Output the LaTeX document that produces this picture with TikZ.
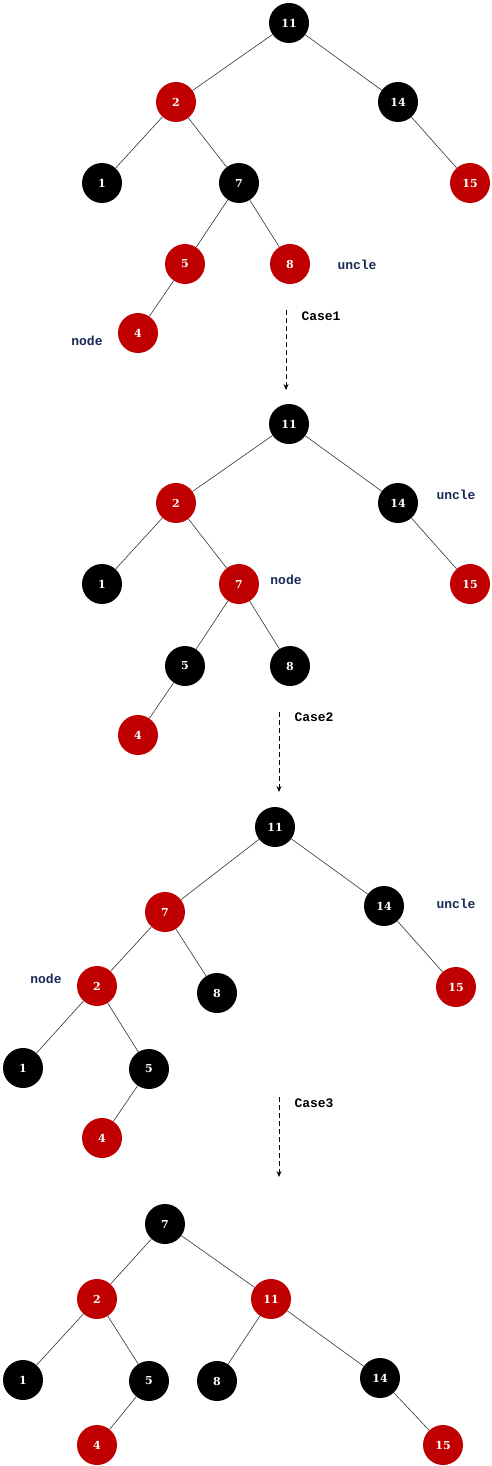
\documentclass[tikz,border=0pt]{standalone}
\usepackage{fontspec}
\usetikzlibrary{arrows.meta}
\newfontfamily\numfont{DejaVu Serif}
\newfontfamily\labfont{Liberation Mono}
\definecolor{rbred}{RGB}{192,0,0}
\definecolor{labnavy}{RGB}{25,40,85}
\tikzset{
  rb/.style={circle, minimum size=40pt, inner sep=0pt, text=white,
    font=\numfont\bfseries\fontsize{11}{11}\selectfont},
  bk/.style={rb, fill=black},
  rd/.style={rb, fill=rbred},
  edge/.style={draw=black!80, line width=0.6pt},
  lab/.style={text=labnavy, font=\labfont\bfseries\fontsize{13}{13}\selectfont, inner sep=0pt},
  caselab/.style={text=black, font=\labfont\bfseries\fontsize{13}{13}\selectfont, inner sep=0pt},
  flow/.style={draw=black, line width=0.8pt, dash pattern=on 5pt off 3pt, -{Stealth[length=6pt,width=5pt]}}
}
\begin{document}
\begin{tikzpicture}[x=1pt,y=-1pt]
\useasboundingbox (0,0) rectangle (491,1466);
% ---- Tree 1
\node[bk] (a11) at (289,23) {11};
\node[rd] (a2) at (176,102) {2};
\node[bk] (a14) at (398,102) {14};
\node[bk] (a1) at (102,183) {1};
\node[bk] (a7) at (239,183) {7};
\node[rd] (a15) at (470,183) {15};
\node[rd] (a5) at (185,264) {5};
\node[rd] (a8) at (290,264) {8};
\node[rd] (a4) at (138,333) {4};
\path[edge] (a11)--(a2) (a11)--(a14) (a2)--(a1) (a2)--(a7) (a14)--(a15) (a7)--(a5) (a7)--(a8) (a5)--(a4);
\node[lab] (au) at (357,265) {uncle};
\node[lab] (an) at (87,341) {node};
\coordinate (f1s) at (286,310);
\coordinate (f1e) at (286,390);
\draw[flow] (f1s) -- (f1e);
\node[caselab] (c1) at (321,316) {Case1};
% ---- Tree 2
\node[bk] (b11) at (289,424) {11};
\node[rd] (b2) at (176,503) {2};
\node[bk] (b14) at (398,503) {14};
\node[bk] (b1) at (102,584) {1};
\node[rd] (b7) at (239,584) {7};
\node[rd] (b15) at (470,584) {15};
\node[bk] (b5) at (185,666) {5};
\node[bk] (b8) at (290,666) {8};
\node[rd] (b4) at (138,735) {4};
\path[edge] (b11)--(b2) (b11)--(b14) (b2)--(b1) (b2)--(b7) (b14)--(b15) (b7)--(b5) (b7)--(b8) (b5)--(b4);
\node[lab] (bu) at (456,495) {uncle};
\node[lab] (bn) at (286,580) {node};
\coordinate (f2s) at (279,712);
\coordinate (f2e) at (279,792);
\draw[flow] (f2s) -- (f2e);
\node[caselab] (c2) at (314,717) {Case2};
% ---- Tree 3
\node[bk] (c11) at (275,827) {11};
\node[rd] (c7) at (165,912) {7};
\node[bk] (c14) at (384,906) {14};
\node[rd] (c2n) at (97,986) {2};
\node[bk] (c8) at (217,993) {8};
\node[rd] (c15) at (456,987) {15};
\node[bk] (c1n) at (23,1068) {1};
\node[bk] (c5) at (149,1069) {5};
\node[rd] (c4) at (102,1138) {4};
\path[edge] (c11)--(c7) (c11)--(c14) (c7)--(c2n) (c7)--(c8) (c14)--(c15) (c2n)--(c1n) (c2n)--(c5) (c5)--(c4);
\node[lab] (cu) at (456,904) {uncle};
\node[lab] (cn) at (46,979) {node};
\coordinate (f3s) at (279,1097);
\coordinate (f3e) at (279,1177);
\draw[flow] (f3s) -- (f3e);
\node[caselab] (c3) at (314,1103) {Case3};
% ---- Tree 4
\node[bk] (d7) at (165,1224) {7};
\node[rd] (d2) at (97,1299) {2};
\node[rd] (d11) at (271,1299) {11};
\node[bk] (d1) at (23,1380) {1};
\node[bk] (d5) at (149,1381) {5};
\node[bk] (d8) at (217,1381) {8};
\node[bk] (d14) at (380,1378) {14};
\node[rd] (d4) at (97,1445) {4};
\node[rd] (d15) at (443,1445) {15};
\path[edge] (d7)--(d2) (d7)--(d11) (d2)--(d1) (d2)--(d5) (d5)--(d4) (d11)--(d8) (d11)--(d14) (d14)--(d15);
\end{tikzpicture}
\end{document}
